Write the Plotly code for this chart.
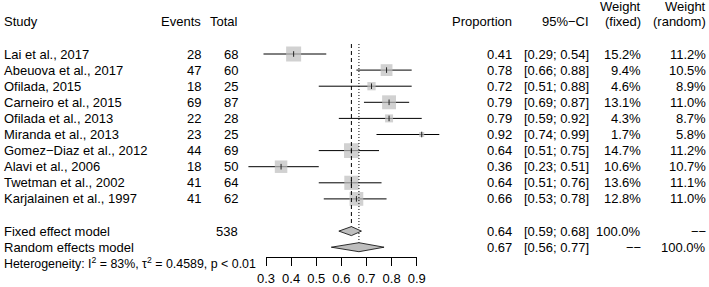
import plotly.graph_objects as go
import math

# ---------------- data ----------------
studies = ["Lai et al., 2017", "Abeuova et al., 2017", "Ofilada, 2015", "Carneiro et al., 2015",
           "Ofilada et al., 2013", "Miranda et al., 2013", "Gomez\u2212Diaz et al., 2012",
           "Alavi et al., 2006", "Twetman et al., 2002", "Karjalainen et al., 1997"]
events = [28, 47, 18, 69, 22, 23, 44, 18, 41, 41]
totals = [68, 60, 25, 87, 28, 25, 69, 50, 64, 62]
proportion = [0.41, 0.78, 0.72, 0.79, 0.79, 0.92, 0.64, 0.36, 0.64, 0.66]
ci_low = [0.29, 0.66, 0.51, 0.69, 0.59, 0.74, 0.51, 0.23, 0.51, 0.53]
ci_high = [0.54, 0.88, 0.88, 0.87, 0.92, 0.99, 0.75, 0.51, 0.76, 0.78]
w_fixed = [15.2, 9.4, 4.6, 13.1, 4.3, 1.7, 14.7, 10.6, 13.6, 12.8]
w_random = [11.2, 10.5, 8.9, 11.0, 8.7, 5.8, 11.2, 10.7, 11.1, 11.0]

fixed_est, fixed_lo, fixed_hi, fixed_total = 0.64, 0.59, 0.68, 538
random_est, random_lo, random_hi = 0.67, 0.56, 0.77
heterogeneity = "Heterogeneity: I<sup>2</sup> = 83%, \u03c4<sup>2</sup> = 0.4589, p &lt; 0.01"
tick_vals = [0.3, 0.4, 0.5, 0.6, 0.7, 0.8, 0.9]

# ---------------- layout helpers ----------------
W, H = 709, 287
FONT = "Liberation Sans, Arial, sans-serif"
SQ = "#bebebe"
rows = list(range(len(studies)))
row_fixed = len(studies) + 1
row_random = len(studies) + 2
row_het = len(studies) + 3
row_head = -2
row_head1 = -2.93
# pixel mapping: row 0 at 54px, spacing 16.1px
y0px, dy = 54.0, 16.1
y_range = [(H - y0px) / dy, (0 - y0px) / dy]
# x mapping: 0.3 -> 266px, 0.9 -> 416.7px
px03, px09 = 266.0, 416.7
scale = (px09 - px03) / 0.6
x_range = [0.3 - px03 / scale, 0.3 + (W - px03) / scale]

fig = go.Figure()

# CI lines
xs, ys = [], []
for i in rows:
    xs += [ci_low[i], ci_high[i], None]
    ys += [i, i, None]
fig.add_trace(go.Scatter(x=xs, y=ys, mode="lines", line=dict(color="black", width=1),
                         hoverinfo="skip", showlegend=False))

# squares sized by sqrt(weight)
sizes = [15.0 * math.sqrt(w / max(w_fixed)) for w in w_fixed]
fig.add_trace(go.Scatter(x=proportion, y=rows, mode="markers",
                         marker=dict(symbol="square", size=sizes, color=SQ, line=dict(width=0)),
                         hoverinfo="skip", showlegend=False))
# point estimate ticks
fig.add_trace(go.Scatter(x=proportion, y=rows, mode="markers",
                         marker=dict(symbol="line-ns", size=4, line=dict(color="#222222", width=1)),
                         hoverinfo="skip", showlegend=False))

# reference lines
top = -0.62
dh = 0.28
fig.add_trace(go.Scatter(x=[fixed_est, fixed_est], y=[top, row_fixed - dh], mode="lines",
                         line=dict(color="black", width=1, dash="4px,3px"),
                         hoverinfo="skip", showlegend=False))
fig.add_trace(go.Scatter(x=[random_est, random_est], y=[top, row_random - dh], mode="lines",
                         line=dict(color="black", width=1, dash="1px,2px"),
                         hoverinfo="skip", showlegend=False))

# diamonds
for est, lo, hi, r in [(fixed_est, fixed_lo, fixed_hi, row_fixed),
                       (random_est, random_lo, random_hi, row_random)]:
    fig.add_trace(go.Scatter(x=[lo, est, hi, est, lo], y=[r, r - dh, r, r + dh, r],
                             mode="lines", fill="toself", fillcolor=SQ,
                             line=dict(color="black", width=0.8),
                             hoverinfo="skip", showlegend=False))

# dummy trace for the scale axis
fig.add_trace(go.Scatter(x=[tick_vals[0], tick_vals[-1]], y=[None, None], xaxis="x2",
                         mode="lines", hoverinfo="skip", showlegend=False))


def txt(px, row, s, anchor="right", size=13):
    fig.add_annotation(x=px / W, y=row, xref="paper", yref="y", text=s, showarrow=False,
                       xanchor=anchor, yanchor="middle",
                       font=dict(family=FONT, size=size, color="black"))


# headers
txt(2, row_head, "Study", "left")
txt(203, row_head, "Events")
txt(240, row_head, "Total")
txt(514, row_head, "Proportion")
txt(591, row_head, "95%\u2212CI")
txt(643, row_head1, "Weight")
txt(643, row_head, "(fixed)")
txt(708, row_head1, "Weight")
txt(708, row_head, "(random)")

for i in rows:
    txt(2, i, studies[i], "left")
    txt(203, i, str(events[i]))
    txt(240, i, str(totals[i]))
    txt(514, i, f"{proportion[i]:.2f}")
    txt(591, i, f"[{ci_low[i]:.2f}; {ci_high[i]:.2f}]")
    txt(643, i, f"{w_fixed[i]:.1f}%")
    txt(708, i, f"{w_random[i]:.1f}%")

txt(2, row_fixed, "Fixed effect model", "left")
txt(240, row_fixed, str(fixed_total))
txt(514, row_fixed, f"{fixed_est:.2f}")
txt(591, row_fixed, f"[{fixed_lo:.2f}; {fixed_hi:.2f}]")
txt(643, row_fixed, "100.0%")
txt(708, row_fixed, "\u2212\u2212")

txt(2, row_random, "Random effects model", "left")
txt(514, row_random, f"{random_est:.2f}")
txt(591, row_random, f"[{random_lo:.2f}; {random_hi:.2f}]")
txt(643, row_random, "\u2212\u2212")
txt(708, row_random, "100.0%")

txt(2, row_het, heterogeneity, "left", size=12.4)

axis_px = 256.7
fig.update_layout(
    width=W, height=H, margin=dict(l=0, r=0, t=0, b=0),
    paper_bgcolor="white", plot_bgcolor="rgba(0,0,0,0)",
    font=dict(family=FONT, size=13, color="black"),
    xaxis=dict(range=x_range, visible=False, fixedrange=True),
    yaxis=dict(range=y_range, visible=False, fixedrange=True),
    xaxis2=dict(domain=[px03 / W, px09 / W], range=[tick_vals[0], tick_vals[-1]],
                anchor="free", position=1 - axis_px / H, side="bottom",
                tickmode="array", tickvals=tick_vals, ticktext=[f"{v:.1f}" for v in tick_vals],
                ticks="outside", ticklen=8, tickwidth=1, tickcolor="black",
                ticklabelstandoff=2,
                showline=True, linecolor="black", linewidth=1,
                showgrid=False, zeroline=False, fixedrange=True, automargin=False,
                tickfont=dict(family=FONT, size=13, color="black")),
    showlegend=False,
)

fig.write_html("out.html", config={"displayModeBar": False},
               post_script="document.body.style.margin='0';")
